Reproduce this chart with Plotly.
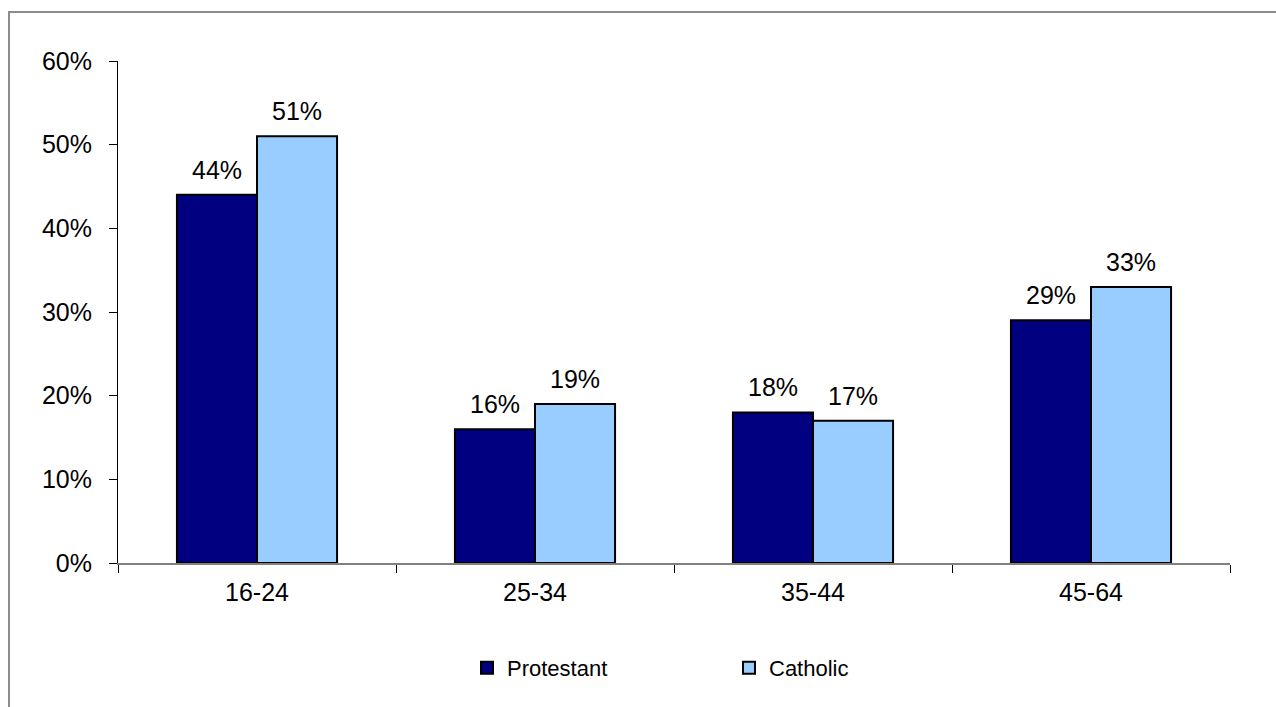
import plotly.graph_objects as go

# Age bands and share of each group (fractions)
age_groups = ["16-24", "25-34", "35-44", "45-64"]
protestant = [0.44, 0.16, 0.18, 0.29]
catholic = [0.51, 0.19, 0.17, 0.33]
y_ticks = [0, 0.1, 0.2, 0.3, 0.4, 0.5, 0.6]

W, H = 1276, 707
M = dict(l=118, r=46, t=60.5, b=144)
BARGAP = 0.424
FONT = "Arial, 'Liberation Sans', sans-serif"

fig = go.Figure()
fig.add_trace(go.Bar(
    name="Protestant", x=age_groups, y=protestant,
    marker=dict(color="#000080", line=dict(color="#000000", width=2)),
))
fig.add_trace(go.Bar(
    name="Catholic", x=age_groups, y=catholic,
    marker=dict(color="#99CCFF", line=dict(color="#000000", width=2)),
))

# value labels above each bar
plot_w = W - M["l"] - M["r"]
plot_h = H - M["t"] - M["b"]
cat_px = plot_w / len(age_groups)
bar_px = cat_px * (1 - BARGAP) / 2
annotations = []
for j, series in enumerate([protestant, catholic]):
    for cat, val in zip(age_groups, series):
        annotations.append(dict(
            x=cat, y=val, xref="x", yref="y",
            text=f"{val:.0%}", showarrow=False,
            xshift=(j - 0.5) * bar_px, yshift=25, yanchor="middle",
            font=dict(family=FONT, size=25, color="#000000"),
        ))

# outer chart border
px_to_x = lambda px: (px - M["l"]) / plot_w
px_to_y = lambda py: (H - M["b"] - py) / plot_h
shapes = [dict(
    type="rect", xref="paper", yref="paper",
    x0=px_to_x(9), x1=px_to_x(1290), y0=px_to_y(720), y1=px_to_y(11.5),
    line=dict(color="#8c8c8c", width=2), fillcolor="rgba(0,0,0,0)",
    layer="below",
)]

fig.update_layout(
    width=W, height=H, margin=M,
    paper_bgcolor="#ffffff", plot_bgcolor="#ffffff",
    barmode="group", bargap=BARGAP, bargroupgap=0,
    font=dict(family=FONT, size=25, color="#000000"),
    showlegend=True,
    legend=dict(
        orientation="h", x=px_to_x(467), xanchor="left",
        y=px_to_y(668), yanchor="middle",
        entrywidth=217, entrywidthmode="pixels",
        font=dict(family=FONT, size=22, color="#000000"),
        bgcolor="rgba(0,0,0,0)",
    ),
    annotations=annotations,
    shapes=shapes,
)
fig.update_xaxes(
    type="category", showline=True, linecolor="#808080", linewidth=1.5,
    ticks="outside", tickson="boundaries", ticklen=8, tickcolor="#000000",
    tickwidth=1, showgrid=False, zeroline=False,
    ticklabelstandoff=6,
    tickfont=dict(family=FONT, size=25, color="#000000"),
)
fig.update_yaxes(
    range=[0, 0.6], tickvals=y_ticks, tickformat=".0%",
    showline=True, linecolor="#000000", linewidth=1,
    ticks="outside", ticklen=8, tickcolor="#000000", tickwidth=1,
    showgrid=False, zeroline=False, ticklabelstandoff=12,
    tickfont=dict(family=FONT, size=25, color="#000000"),
)

fig.write_html("out.html")
